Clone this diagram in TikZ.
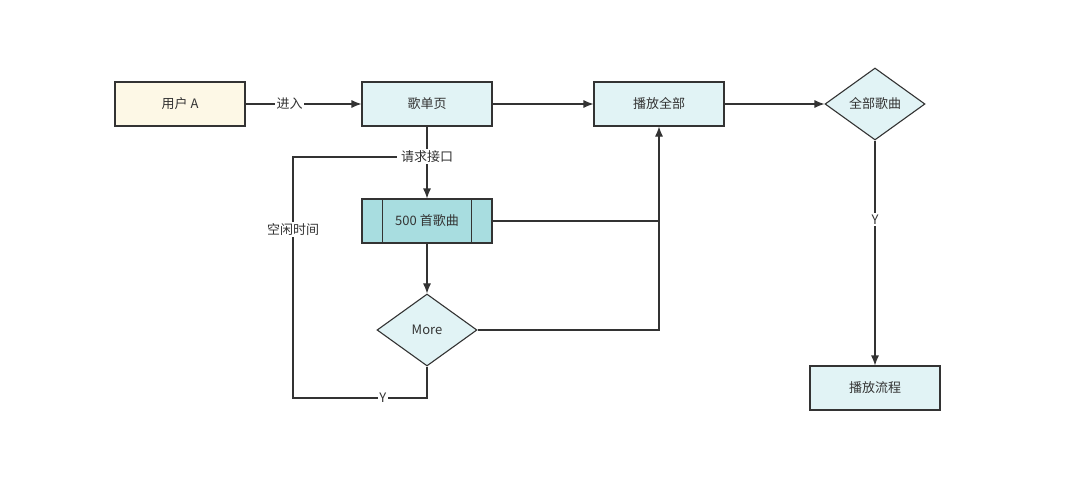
\documentclass[tikz,border=0pt]{standalone}
\usepackage{fontspec}
\setmainfont{Noto Sans CJK SC}
\usetikzlibrary{shapes.geometric,arrows.meta}
\definecolor{cream}{HTML}{FDF8E6}
\definecolor{lcyan}{HTML}{E1F3F5}
\definecolor{dcyan}{HTML}{A8DDE0}
\definecolor{edge}{HTML}{333333}
\begin{document}
\begin{tikzpicture}[x=1pt,y=-1pt,
  box/.style={draw=edge,line width=1.1pt,fill=lcyan,minimum width=130pt,minimum height=44pt,font=\fontsize{13}{15}\selectfont,text=edge},
  dia/.style={diamond,aspect=1.39,draw=edge,line width=1.1pt,fill=lcyan,minimum width=100pt,minimum height=72pt,inner sep=0pt,font=\fontsize{13}{15}\selectfont,text=edge},
  ln/.style={draw=edge,line width=1.1pt},
  ar/.style={ln,-{Latex[length=10pt,width=8pt]}},
  lab/.style={fill=white,inner sep=1.5pt,font=\fontsize{13}{15}\selectfont,text=edge}]
\useasboundingbox[fill=white] (0,0) rectangle (1080,503);
\node[box,fill=cream] (u) at (180,104) {用户 A};
\node[box] (g) at (427,104) {歌单页};
\node[box] (p) at (659,104) {播放全部};
\node[dia] (all) at (875,104) {全部歌曲};
\node[box,fill=dcyan] (s) at (427,221) {500 首歌曲};
\draw[ln] ([xshift=21pt]s.north west) -- ([xshift=21pt]s.south west);
\draw[ln] ([xshift=-21pt]s.north east) -- ([xshift=-21pt]s.south east);
\node[dia] (m) at (427,330) {More};
\node[box] (f) at (875,388) {播放流程};
\coordinate (j1) at (659,221);
\coordinate (j2) at (659,330);
\coordinate (b1) at (427,398);
\coordinate (b2) at (293,398);
\coordinate (b3) at (293,157);
\coordinate (b4) at (427,157);
\draw[ar] (u) -- node[lab,pos=0.38]{进入} (g);
\draw[ar] (g) -- (p);
\draw[ar] (p) -- (all);
\draw[ar] (all) -- node[lab,pos=0.35]{Y} (f);
\draw[ar] (g) -- node[lab,pos=0.42]{请求接口} (s);
\draw[ln] (s.east) -- (j1);
\draw[ar] (m.east) -- (j2) -- (p.south);
\draw[ar] (s) -- (m);
\draw[ln] (m.south) -- (b1) -- node[lab,pos=0.33]{Y} (b2) -- node[lab,pos=0.7]{空闲时间} (b3) -- ([xshift=-30pt]b4);
\end{tikzpicture}
\end{document}
